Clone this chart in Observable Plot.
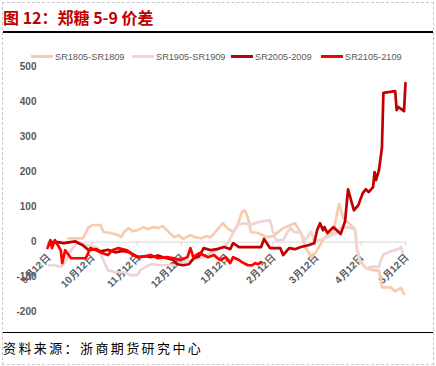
<!DOCTYPE html>
<html>
<head>
<meta charset="utf-8">
<script src="https://cdn.jsdelivr.net/npm/d3@7"></script>
<script src="https://cdn.jsdelivr.net/npm/@observablehq/plot@0.6"></script>
<style>
  html, body { margin: 0; padding: 0; background: #fff; }
  #wrap { position: relative; width: 436px; height: 366px; overflow: hidden; font-family: "Noto Sans CJK SC", "Liberation Sans", sans-serif; }
  .abs { position: absolute; }
  #frame { left: 2px; top: 2px; width: 430px; height: 361px; border: 1px dashed #c8c8c8; }
  #title { left: 3px; top: 6px; font-size: 16px; font-weight: bold; color: #c00000; white-space: pre; line-height: 22px; }
  #rule1 { left: 3px; top: 31px; width: 430px; height: 1.5px; background: #000; }
  #rule2 { left: 3px; top: 332px; width: 430px; height: 1.2px; background: #000; }
  #source { left: 3px; top: 338px; font-size: 13px; letter-spacing: 2.4px; color: #000; white-space: nowrap; line-height: 19px; }
  .leg { position: absolute; top: 50px; height: 14px; font-family: "Liberation Sans", Arial, sans-serif; font-size: 9.2px; color: #595959; white-space: nowrap; line-height: 14px; }
  .sw { display: inline-block; width: 22px; height: 3px; vertical-align: middle; margin-right: 2px; position: relative; top: -1px; }
  #chart { left: 0; top: 40px; }
</style>
</head>
<body>
<div id="wrap">
  <div id="frame" class="abs"></div>
  <div id="title" class="abs"></div>
  <div id="rule1" class="abs"></div>
  <div id="legend"></div>
  <div id="chart" class="abs"></div>
  <div id="rule2" class="abs"></div>
  <div id="source" class="abs"></div>
</div>
<script>
const titleText = "图 12：郑糖 5-9 价差";
const sourceText = "资料来源：浙商期货研究中心";

const seriesNames = ["SR1805-SR1809", "SR1905-SR1909", "SR2005-2009", "SR2105-2109"];
const seriesColors = ["#f8cbad", "#f0d4d4", "#c00000", "#ff0000"];

const yTicks = [-200, -100, 0, 100, 200, 300, 400, 500];
const tickDates = ["2019-09-12", "2019-10-12", "2019-11-12", "2019-12-12", "2020-01-12", "2020-02-12", "2020-03-12", "2020-04-12", "2020-05-12"];
const tickLabels = ["9月12日", "10月12日", "11月12日", "12月12日", "1月12日", "2月12日", "3月12日", "4月12日", "5月12日"];

// SR1805-SR1809 (aligned on month-day)
const sr1805 = [
  ["2019-09-26", 11], ["2019-10-06", 11], ["2019-10-10", 43], ["2019-10-13", 49], ["2019-10-18", 49],
  ["2019-10-20", 29], ["2019-10-25", 26], ["2019-10-30", 20], ["2019-11-01", 14], ["2019-11-03", 29],
  ["2019-11-06", 40], ["2019-11-09", 31], ["2019-11-12", 34], ["2019-11-16", 43], ["2019-11-19", 37],
  ["2019-11-23", 43], ["2019-11-26", 40], ["2019-11-29", 46], ["2019-12-02", 34], ["2019-12-07", 14],
  ["2019-12-10", 20], ["2019-12-13", 9], ["2019-12-18", 20], ["2019-12-21", 14], ["2019-12-25", 11],
  ["2019-12-29", 17], ["2020-01-01", 14], ["2020-01-05", 34], ["2020-01-09", 54], ["2020-01-12", 40],
  ["2020-01-16", 29], ["2020-01-19", 49], ["2020-01-22", 86], ["2020-01-24", 91], ["2020-01-26", 71],
  ["2020-01-28", 29], ["2020-02-02", 26], ["2020-02-08", 14], ["2020-02-12", 17], ["2020-02-19", 40],
  ["2020-02-27", 54], ["2020-03-02", 26], ["2020-03-05", -14], ["2020-03-09", -43], ["2020-03-12", -30],
  ["2020-03-17", 6], ["2020-03-21", 26], ["2020-03-24", 26], ["2020-03-27", 91], ["2020-03-28", 109],
  ["2020-03-31", 66], ["2020-04-05", 49], ["2020-04-08", 34], ["2020-04-09", -14], ["2020-04-11", -51],
  ["2020-04-15", -74], ["2020-04-20", -80], ["2020-04-24", -82], ["2020-04-25", -103], ["2020-04-26", -129],
  ["2020-05-02", -129], ["2020-05-05", -140], ["2020-05-09", -131], ["2020-05-11", -148]
];

// SR1905-SR1909
const sr1905 = [
  ["2019-09-13", -66], ["2019-09-17", -66], ["2019-09-21", -71], ["2019-09-24", -57], ["2019-09-28", -23],
  ["2019-10-02", -3], ["2019-10-09", -9], ["2019-10-16", -17], ["2019-10-19", -43], ["2019-10-23", -80],
  ["2019-10-28", -86], ["2019-11-04", -86], ["2019-11-07", -94], ["2019-11-12", -94], ["2019-11-14", -80],
  ["2019-11-21", -63], ["2019-11-28", -66], ["2019-12-07", -66], ["2019-12-15", -55], ["2019-12-25", -45],
  ["2020-01-04", -25], ["2020-01-12", -5], ["2020-01-16", 26], ["2020-01-19", 49], ["2020-01-23", 54],
  ["2020-01-28", 50], ["2020-02-02", 57], ["2020-02-06", 60], ["2020-02-10", 63], ["2020-02-12", 30],
  ["2020-02-14", 6], ["2020-02-19", 6], ["2020-02-22", 29], ["2020-02-24", 40], ["2020-02-26", 30],
  ["2020-03-02", 26], ["2020-03-05", 6], ["2020-03-09", 30], ["2020-03-11", 3], ["2020-03-15", 6],
  ["2020-03-20", 14], ["2020-03-26", 26], ["2020-03-29", 40], ["2020-04-03", 43], ["2020-04-08", 34],
  ["2020-04-09", -23], ["2020-04-11", -55], ["2020-04-15", -74], ["2020-04-20", -70], ["2020-04-24", -71],
  ["2020-04-25", -55], ["2020-04-27", -35], ["2020-05-02", -26], ["2020-05-07", -20], ["2020-05-09", -14],
  ["2020-05-10", -30]
];

// SR2005-2009
const sr2005 = [
  ["2019-09-14", 0], ["2019-09-19", 0], ["2019-09-23", -3], ["2019-10-01", 2], ["2019-10-06", -9],
  ["2019-10-10", -23], ["2019-10-15", -20], ["2019-10-18", -26], ["2019-10-23", -22], ["2019-10-28", -29],
  ["2019-11-02", -25], ["2019-11-07", -29], ["2019-11-12", -43], ["2019-11-18", -40], ["2019-11-21", -43],
  ["2019-11-26", -38], ["2019-12-01", -45], ["2019-12-06", -50], ["2019-12-09", -63], ["2019-12-13", -66],
  ["2019-12-17", -63], ["2019-12-20", -47], ["2019-12-24", -40], ["2019-12-27", -17], ["2020-01-01", -23],
  ["2020-01-05", -20], ["2020-01-10", -14], ["2020-01-14", -20], ["2020-01-16", -3], ["2020-01-20", -14],
  ["2020-01-28", -14], ["2020-02-04", -14], ["2020-02-06", 9], ["2020-02-10", -17], ["2020-02-17", -17],
  ["2020-02-19", -37], ["2020-02-23", -17], ["2020-02-27", -20], ["2020-03-02", -14], ["2020-03-07", -9],
  ["2020-03-11", -3], ["2020-03-13", 34], ["2020-03-15", 54], ["2020-03-17", 34], ["2020-03-18", 43],
  ["2020-03-20", 26], ["2020-03-24", 43], ["2020-03-27", 31], ["2020-03-29", 23], ["2020-04-01", 60],
  ["2020-04-03", 151], ["2020-04-07", 91], ["2020-04-10", 106], ["2020-04-13", 140], ["2020-04-15", 151],
  ["2020-04-17", 143], ["2020-04-20", 157], ["2020-04-21", 200], ["2020-04-22", 177], ["2020-04-24", 206],
  ["2020-04-26", 269], ["2020-04-27", 426], ["2020-05-05", 431], ["2020-05-06", 377], ["2020-05-07", 386],
  ["2020-05-11", 374], ["2020-05-12", 454]
];

// SR2105-2109
const sr2105 = [
  ["2019-09-12", -17], ["2019-09-14", 6], ["2019-09-15", -17], ["2019-09-17", 6], ["2019-09-21", -23],
  ["2019-09-22", -60], ["2019-09-24", -23], ["2019-09-28", -46], ["2019-10-08", -46], ["2019-10-11", -17],
  ["2019-10-15", -23], ["2019-10-19", -31], ["2019-10-23", -37], ["2019-10-26", -23], ["2019-10-30", -17],
  ["2019-11-05", -23], ["2019-11-09", -37], ["2019-11-14", -43], ["2019-11-21", -37], ["2019-11-26", -46],
  ["2019-12-02", -43], ["2019-12-07", -46], ["2019-12-11", -51], ["2019-12-16", -43], ["2019-12-18", -17],
  ["2019-12-20", -43], ["2019-12-24", -31], ["2019-12-30", -43], ["2020-01-03", -37], ["2020-01-07", -51],
  ["2020-01-11", -43], ["2020-01-14", -60], ["2020-01-16", -43], ["2020-01-20", -51], ["2020-01-22", -57],
  ["2020-01-26", -66], ["2020-01-29", -66], ["2020-01-31", -60], ["2020-02-02", -63], ["2020-02-04", -57]
];

const allSeries = [sr1805, sr1905, sr2005, sr2105];

document.getElementById("title").textContent = titleText;
document.getElementById("source").textContent = sourceText;

// legend
const legPos = [31, 132, 231, 321];
const legend = document.getElementById("legend");
seriesNames.forEach((name, i) => {
  const d = document.createElement("div");
  d.className = "leg";
  d.style.left = legPos[i] + "px";
  const sw = document.createElement("span");
  sw.className = "sw";
  sw.style.background = seriesColors[i];
  d.appendChild(sw);
  d.appendChild(document.createTextNode(name));
  legend.appendChild(d);
});

const parse = d3.utcParse("%Y-%m-%d");
const ticks = tickDates.map((t, i) => ({date: parse(t), label: tickLabels[i]}));

const lineMarks = allSeries.map((s, i) =>
  Plot.line(s.map(([d, v]) => ({date: parse(d), value: v})), {
    x: "date", y: "value", stroke: seriesColors[i], strokeWidth: 2.7, strokeLinejoin: "round"
  })
);

const chart = Plot.plot({
  width: 436,
  height: 290,
  marginLeft: 47,
  marginRight: 31,
  marginTop: 26.5,
  marginBottom: 18.3,
  style: {fontFamily: "'Liberation Sans', Arial, sans-serif", fontSize: "10px", color: "#595959", background: "transparent"},
  x: {type: "utc", domain: [parse(tickDates[0]), parse(tickDates[tickDates.length - 1])], axis: null},
  y: {domain: [-200, 500], ticks: yTicks, tickSize: 0, tickPadding: 11, label: null, tickFormat: d => String(d)},
  marks: [
    Plot.ruleY([0], {stroke: "#d9d9d9", strokeWidth: 1}),
    Plot.ruleX(ticks, {x: "date", y1: 0, y2: -12, stroke: "#d9d9d9"}),
    Plot.text(ticks, {x: "date", y: 0, text: "label", rotate: -45, textAnchor: "end", dy: 14, dx: 1, fill: "#595959", fontWeight: "bold", fontSize: 10}),
    ...lineMarks
  ]
});
chart.querySelectorAll("g[aria-label='y-axis tick label'] text, g[aria-label='y-axis'] text").forEach(t => t.setAttribute("font-weight", "bold"));
document.getElementById("chart").appendChild(chart);
</script>
</body>
</html>
